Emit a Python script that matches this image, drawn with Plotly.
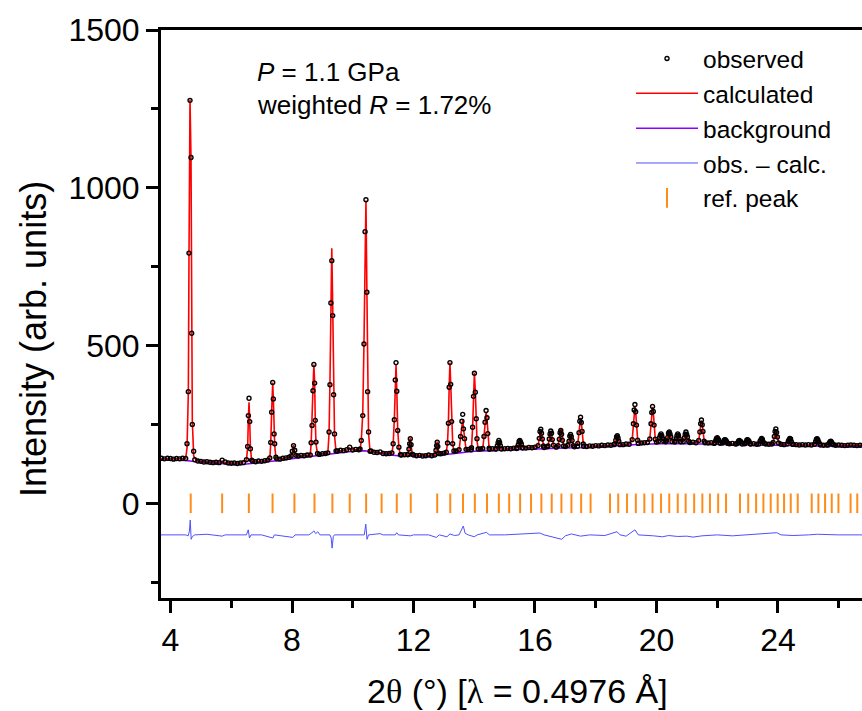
import plotly.graph_objects as go

# ---------------- data ----------------
# observed points along the background (between peaks)
base_tt = [3.7, 3.8, 3.9, 4.0, 4.1, 4.2, 4.3, 4.4, 4.5,
           4.8, 4.9, 5.0, 5.1, 5.2, 5.3, 5.4, 5.5, 5.6, 5.7, 5.8, 5.9, 6.0, 6.1, 6.2, 6.3, 6.4,
           6.7, 6.8, 6.9, 7.0, 7.1, 7.2,
           7.5, 7.6, 7.7, 7.8, 7.9,
           8.2, 8.3, 8.4, 8.5,
           8.9, 9.0, 9.1,
           9.5, 9.6, 9.7, 9.8, 9.9, 10.0, 10.1, 10.2,
           10.6, 10.7, 10.8, 10.9, 11.0, 11.1, 11.2,
           11.6, 11.7, 11.8,
           12.0, 12.1, 12.2, 12.3, 12.4, 12.5, 12.6,
           12.9, 13.0, 13.4, 13.8, 13.9, 14.2, 14.5, 14.6, 14.7,
           15.0, 15.1, 15.2, 15.3, 15.4, 15.6, 15.7, 15.8, 15.9, 16.0,
           16.3, 16.4, 16.7, 17.0, 17.3, 17.4,
           17.6, 17.7, 17.8, 17.9, 18.0, 18.1, 18.2, 18.3, 18.4, 18.5, 18.6,
           18.9, 19.0, 19.1, 19.4, 19.5, 19.6, 19.7, 20.0, 20.3, 20.6, 20.8,
           21.1, 21.2, 21.3, 21.6, 21.7, 21.8, 21.9, 22.1, 22.4, 22.5, 22.6,
           22.9, 23.1, 23.2, 23.3, 23.6, 23.7, 23.8, 24.1, 24.2,
           24.5, 24.6, 24.7, 24.8, 24.9, 25.0, 25.1, 25.4, 25.5, 25.6,
           25.9, 26.0, 26.1, 26.2, 26.3, 26.4, 26.5, 26.6, 26.7, 26.8]
base_obs = [143, 141, 143, 142, 140, 142, 141, 143, 142,
            138, 134, 133, 131, 132, 130, 129, 130, 129, 137, 131, 128, 127, 128, 126, 128, 129,
            134, 132, 134, 133, 135, 137,
            141, 140, 143, 144, 146,
            150, 152, 151, 153,
            155, 157, 158,
            166, 168, 167, 170, 178, 169, 171, 170,
            166, 162, 161, 163, 158, 157, 158,
            153, 154, 155,
            153, 151, 152, 150, 151, 153, 151,
            157, 159, 166, 171, 170, 172, 171, 173, 172,
            173, 174, 173, 175, 174, 176, 175, 177, 176, 178,
            177, 179, 178, 180, 179, 181,
            181, 180, 182, 181, 183, 182, 184, 183, 185, 184, 186,
            186, 188, 187, 190, 191, 192, 193, 194, 195, 194, 195,
            193, 194, 192, 192, 191, 192, 190, 191, 189, 190, 188,
            189, 188, 189, 187, 188, 187, 188, 187, 186,
            187, 186, 185, 186, 185, 186, 185, 185, 184, 185,
            184, 185, 184, 183, 184, 185, 184, 183, 184, 184]

# observed / calculated points across the Bragg peaks
peak_tt = [4.543, 4.587, 4.609, 4.642, 4.675, 4.697, 4.718, 4.763,
           6.50, 6.54, 6.563, 6.585, 6.608, 6.63, 6.67,
           7.27, 7.30, 7.33, 7.365, 7.385, 7.41, 7.43, 7.47,
           7.97, 8.01, 8.05, 8.09, 8.13,
           8.60, 8.63, 8.66, 8.69, 8.72, 8.745, 8.765, 8.79, 8.84,
           9.18, 9.22, 9.25, 9.28, 9.31, 9.34, 9.37, 9.40, 9.45,
           10.24, 10.28, 10.33, 10.37, 10.405, 10.435, 10.465, 10.49, 10.52, 10.57,
           11.29, 11.33, 11.37, 11.40, 11.425, 11.45, 11.48, 11.52, 11.57,
           11.81, 11.85, 11.875, 11.895, 11.92, 11.96,
           12.70, 12.74, 12.76, 12.78, 12.80, 12.84,
           13.08, 13.12, 13.15, 13.175, 13.20, 13.225, 13.255, 13.29, 13.33,
           13.50, 13.55, 13.595, 13.62, 13.645, 13.68, 13.73,
           13.91, 13.945, 13.975, 14.005, 14.035, 14.065, 14.09, 14.13,
           14.28, 14.32, 14.355, 14.39, 14.42, 14.445, 14.49,
           14.72, 14.76, 14.785, 14.81, 14.835, 14.86, 14.90,
           15.41, 15.45, 15.475, 15.50, 15.525, 15.55, 15.59,
           16.10, 16.14, 16.165, 16.19, 16.215, 16.24, 16.28,
           16.43, 16.47, 16.495, 16.52, 16.545, 16.57, 16.61,
           16.76, 16.80, 16.825, 16.85, 16.875, 16.90, 16.94,
           17.08, 17.12, 17.145, 17.17, 17.195, 17.22, 17.26,
           17.41, 17.45, 17.475, 17.50, 17.525, 17.55, 17.59,
           18.62, 18.66, 18.685, 18.71, 18.735, 18.76, 18.80,
           19.20, 19.24, 19.265, 19.29, 19.315, 19.34, 19.38,
           19.78, 19.82, 19.845, 19.87, 19.895, 19.92, 19.96,
           20.06, 20.10, 20.125, 20.15, 20.175, 20.20, 20.24,
           20.33, 20.37, 20.395, 20.42, 20.445, 20.47, 20.51,
           20.61, 20.65, 20.675, 20.70, 20.725, 20.75, 20.79,
           20.88, 20.92, 20.945, 20.97, 20.995, 21.02, 21.06,
           21.39, 21.43, 21.455, 21.48, 21.505, 21.53, 21.57,
           21.91, 21.95, 21.975, 22.00, 22.025, 22.05, 22.09,
           22.17, 22.21, 22.235, 22.26, 22.285, 22.31, 22.35,
           22.64, 22.68, 22.705, 22.73, 22.755, 22.78, 22.82,
           22.91, 22.95, 22.975, 23.00, 23.025, 23.05, 23.09,
           23.37, 23.41, 23.435, 23.46, 23.485, 23.51, 23.55,
           23.84, 23.88, 23.905, 23.93, 23.955, 23.98, 24.02,
           24.30, 24.34, 24.365, 24.39, 24.415, 24.44, 24.48,
           25.20, 25.24, 25.265, 25.29, 25.315, 25.34, 25.38,
           25.65, 25.69, 25.715, 25.74, 25.765, 25.79, 25.83]
peak_obs = [189, 354, 793, 1277, 1096, 539, 250, 165,
            138, 180, 278, 333, 259, 173, 137,
            144, 193, 289, 383, 331, 220, 189, 146,
            150, 165, 183, 168, 152,
            153, 192, 247, 357, 440, 381, 263, 194, 158,
            160, 226, 376, 635, 769, 595, 344, 220, 166,
            172, 199, 278, 505, 861, 962, 669, 354, 226, 165,
            160, 189, 265, 391, 446, 355, 231, 178, 154,
            154, 172, 189, 205, 186, 156,
            153, 168, 183, 194, 180, 158,
            162, 191, 254, 368, 446, 377, 259, 189, 166,
            170, 212, 260, 282, 236, 205, 171,
            176, 241, 339, 412, 352, 268, 205, 172,
            174, 212, 257, 294, 271, 221, 175,
            173, 182, 192, 199, 193, 183, 172,
            177, 186, 196, 199, 194, 188, 176,
            183, 206, 228, 235, 222, 204, 182,
            182, 204, 220, 229, 222, 202, 184,
            183, 203, 224, 231, 219, 200, 182,
            184, 197, 213, 218, 211, 199, 183,
            190, 224, 260, 273, 256, 228, 188,
            188, 200, 210, 214, 207, 197, 186,
            202, 252, 296, 313, 290, 248, 200,
            204, 252, 288, 307, 291, 248, 203,
            196, 208, 215, 220, 214, 206, 197,
            198, 209, 222, 226, 220, 211, 196,
            197, 206, 215, 220, 215, 205, 196,
            195, 208, 219, 226, 218, 210, 197,
            199, 226, 252, 264, 249, 228, 197,
            192, 199, 206, 208, 204, 200, 191,
            191, 196, 201, 202, 199, 195, 190,
            189, 193, 198, 199, 196, 195, 188,
            190, 194, 201, 202, 199, 196, 189,
            188, 197, 201, 206, 203, 195, 190,
            193, 212, 228, 236, 225, 210, 191,
            188, 197, 202, 206, 204, 195, 187,
            187, 196, 203, 205, 201, 194, 188,
            185, 191, 195, 197, 194, 189, 186]
peak_calc = [175, 350, 790, 1280, 1090, 545, 262, 150,
             136, 178, 268, 320, 262, 178, 136,
             142, 190, 292, 383, 335, 226, 184, 144,
             149, 163, 185, 166, 151,
             152, 188, 250, 362, 440, 385, 268, 188, 156,
             159, 222, 385, 650, 808, 625, 350, 215, 165,
             171, 197, 285, 510, 850, 960, 680, 360, 222, 164,
             159, 186, 268, 395, 440, 360, 235, 175, 153,
             153, 170, 192, 208, 184, 155,
             153, 166, 185, 196, 181, 157,
             161, 193, 258, 372, 446, 380, 262, 190, 165,
             169, 208, 250, 265, 238, 200, 170,
             175, 238, 345, 414, 355, 262, 200, 171,
             173, 210, 262, 290, 268, 225, 174,
             172, 180, 190, 195, 190, 181, 172,
             177, 187, 195, 199, 195, 187, 177,
             183, 205, 224, 231, 224, 205, 183,
             183, 203, 221, 229, 221, 203, 183,
             183, 206, 228, 238, 232, 208, 184,
             183, 198, 212, 218, 212, 198, 183,
             189, 226, 258, 271, 258, 226, 189,
             187, 197, 207, 211, 207, 197, 187,
             201, 248, 290, 305, 290, 248, 201,
             204, 250, 289, 306, 289, 250, 204,
             197, 207, 216, 221, 216, 207, 197,
             197, 210, 221, 226, 221, 210, 197,
             197, 207, 216, 221, 216, 207, 197,
             196, 209, 220, 226, 220, 209, 196,
             198, 227, 251, 263, 251, 227, 198,
             192, 199, 205, 208, 205, 199, 192,
             190, 196, 200, 202, 200, 196, 190,
             189, 194, 197, 199, 197, 194, 189,
             189, 195, 200, 202, 200, 195, 189,
             189, 196, 202, 205, 202, 196, 189,
             192, 211, 226, 232, 226, 211, 192,
             188, 196, 203, 206, 203, 196, 188,
             187, 195, 202, 205, 202, 195, 187,
             185, 190, 195, 197, 195, 190, 185]

# calculated curve between peaks
calc_base_tt = [3.60, 4.00, 4.30, 4.50, 4.85, 5.10, 5.40, 5.65, 5.70, 5.75, 6.00, 6.30,
                6.75, 7.00, 7.20, 7.60, 7.85, 8.25, 8.45, 8.95, 9.10,
                9.55, 9.80, 9.88, 9.95, 10.10, 10.70, 10.90, 11.10, 11.70,
                12.10, 12.40, 12.60, 12.95, 13.42, 13.83, 14.20, 14.60,
                15.05, 15.25, 15.70, 15.95, 16.35, 16.69, 17.01, 17.33,
                17.75, 18.00, 18.25, 18.50, 18.95, 19.10, 19.50, 19.65,
                20.01, 20.29, 20.56, 20.84, 21.15, 21.30, 21.70, 21.85,
                22.13, 22.50, 22.87, 23.20, 23.70, 24.15, 24.70, 25.00,
                25.52, 26.10, 26.50, 26.90]
calc_base = [142, 142, 142, 142, 136, 132, 130, 130, 134, 130, 128, 128,
             133, 134, 136, 141, 145, 150, 152, 156, 158,
             166, 169, 176, 170, 170, 163, 160, 158, 153,
             152, 151, 152, 157, 167, 170, 171, 172,
             173, 174, 176, 177, 178, 178, 179, 180,
             181, 182, 183, 184, 186, 188, 190, 192,
             193, 194, 194, 194, 193, 192, 191, 190,
             190, 188, 188, 188, 187, 187, 186, 185,
             185, 184, 184, 184]

# refined background
bg_tt = [3.6, 4.5, 5.0, 5.5, 6.0, 6.5, 7.0, 7.5, 8.0, 8.5, 9.0, 9.5, 10.0, 10.4,
         10.8, 11.2, 11.6, 12.0, 12.5, 13.0, 13.5, 14.0, 14.5, 15.0, 15.5, 16.0,
         16.5, 17.0, 17.5, 18.0, 18.5, 19.0, 19.5, 20.0, 20.5, 21.0, 21.5, 22.0,
         22.5, 23.0, 23.5, 24.0, 24.5, 25.0, 25.5, 26.0, 26.9]
bg = [138, 136, 130, 127, 124, 125, 129, 135, 141, 147, 152, 160, 165, 167,
      159, 153, 150, 149, 149, 154, 160, 165, 167, 169, 171, 173,
      174, 175, 176, 178, 181, 184, 187, 189, 190, 189, 188, 186,
      185, 184, 183, 183, 182, 181, 181, 180, 180]

# difference (obs - calc)
diff_tt = [3.6, 4.50, 4.58, 4.62, 4.65, 4.68, 4.72, 4.80, 5.20, 5.70, 5.80, 6.50, 6.56, 6.60,
           6.65, 7.00, 7.37, 7.42, 8.03, 8.10, 8.55, 8.65, 8.72, 8.78, 8.85, 8.92,
           9.25, 9.29, 9.32, 9.36, 9.40, 9.90, 10.38, 10.43, 10.47, 10.52, 10.90,
           11.00, 11.40, 11.45, 11.50, 11.90, 12.00, 12.50, 12.75, 12.85, 13.10,
           13.20, 13.35, 13.50, 13.60, 13.64, 13.70, 13.80, 14.00, 14.10, 14.40,
           14.50, 15.00, 15.50, 16.16, 16.30, 16.88, 17.00, 17.20, 17.50, 17.80,
           18.30, 18.70, 18.80, 19.00, 19.29, 19.40, 19.90, 20.20, 20.40, 20.70,
           21.00, 21.20, 21.50, 22.00, 22.50, 23.00, 23.50, 23.96, 24.10, 24.50,
           25.00, 25.30, 26.00, 26.90]
diff = [0, 0, -3, 10, 47, -14, -5, 0, 2, -4, 0, 0, 16, -10,
        0, 0, -10, 0, -8, 0, 0, 6, 13, 4, 10, 0,
        0, -10, -42, -5, 0, 0, 0, 34, -14, 0, 4,
        0, 0, 7, 0, -3, 0, 0, -8, 0, -6,
        3, -2, 0, 20, 28, 5, 0, -6, 0, 8,
        0, 0, 2, 6, 0, -14, -3, 3, -4, 0,
        -2, 10, 0, -4, 16, 0, -3, -6, -2, -5,
        -4, -7, -3, 0, -3, 0, 2, 7, 0, -2,
        0, 2, 0, 0]

# reflection positions
ref_peaks = [4.665, 5.70, 6.58, 7.36, 8.08, 8.74, 9.33, 9.90, 10.44, 10.95, 11.45, 11.91,
             12.78, 13.21, 13.63, 14.02, 14.42, 14.81, 15.15, 15.51, 15.87, 16.21, 16.55,
             16.87, 17.20, 17.52, 17.83, 18.47, 18.74, 19.03, 19.32, 19.60, 19.87, 20.15,
             20.42, 20.70, 20.96, 21.24, 21.51, 21.76, 22.03, 22.29, 22.75, 23.02, 23.28,
             23.52, 23.76, 23.99, 24.20, 24.42, 24.65, 25.11, 25.33, 25.55, 25.77, 25.99,
             26.39, 26.61]

# ---------------- assemble ----------------
obs_x = base_tt + peak_tt
obs_y = base_obs + peak_obs
calc_pairs = sorted(zip(peak_tt + calc_base_tt, peak_calc + calc_base))
calc_x = [p[0] for p in calc_pairs]
calc_y = [p[1] for p in calc_pairs]
DIFF_OFFSET = -100
diff_y = [d + DIFF_OFFSET for d in diff]

FONT = "Liberation Sans, Arial, sans-serif"
fig = go.Figure()

fig.add_trace(go.Scatter(x=bg_tt, y=bg, mode="lines", name="background",
                         line=dict(color="#8C00FF", width=1.5), legendrank=3))
fig.add_trace(go.Scatter(x=diff_tt, y=diff_y, mode="lines", name="obs. \u2013 calc.",
                         line=dict(color="#5050FF", width=1), legendrank=4))
fig.add_trace(go.Scatter(x=ref_peaks, y=[0] * len(ref_peaks), mode="markers", name="ref. peak",
                         marker=dict(symbol="line-ns", size=14,
                                     line=dict(width=2, color="#FF8C1A")),
                         legendrank=5))
fig.add_trace(go.Scatter(x=calc_x, y=calc_y, mode="lines", name="calculated",
                         line=dict(color="#FF0000", width=1.6), legendrank=2))
fig.add_trace(go.Scatter(x=obs_x, y=obs_y, mode="markers", name="observed",
                         marker=dict(symbol="circle-open", size=4, color="black",
                                     line=dict(width=1.4, color="black")),
                         legendrank=1))

L, R, T, B = 161, 0, 30, 113
W, H = 862, 711
pw, ph = W - L - R, H - T - B


def px(xp):
    return (xp - L) / pw


def py(yp):
    return (H - B - yp) / ph


fig.update_layout(
    width=W, height=H,
    margin=dict(l=L, r=R, t=T, b=B),
    plot_bgcolor="white", paper_bgcolor="white",
    font=dict(family=FONT, color="black"),
    showlegend=True,
    legend=dict(x=px(631), y=py(36), xanchor="left", yanchor="top",
                font=dict(size=24.5, family=FONT), itemwidth=62,
                bgcolor="rgba(0,0,0,0)", borderwidth=0, tracegroupgap=0,
                traceorder="normal"),
    xaxis=dict(range=[3.687, 26.766], showline=True, linewidth=3, linecolor="black",
               mirror=True, ticks="outside", ticklen=12, tickwidth=3, tickcolor="black",
               dtick=4, tick0=0, showgrid=False, zeroline=False,
               tickfont=dict(size=32, family=FONT),
               minor=dict(dtick=2, tick0=0, ticks="outside", ticklen=7, tickwidth=2.5,
                          tickcolor="black")),
    yaxis=dict(range=[-300, 1500], showline=True, linewidth=3, linecolor="black",
               mirror=False, ticks="outside", ticklen=12, tickwidth=3, tickcolor="black",
               dtick=500, tick0=0, showgrid=False, zeroline=False,
               tickfont=dict(size=32, family=FONT),
               minor=dict(dtick=250, tick0=0, ticks="outside", ticklen=7, tickwidth=2.5,
                          tickcolor="black")),
    annotations=[
        dict(text="2<span style='font-family:Liberation Serif'>\u03b8</span> (\u00b0) "
                  "[<span style='font-family:Liberation Serif'>\u03bb</span> = 0.4976 \u00c5]",
             x=px(517), y=py(691), xref="paper", yref="paper", showarrow=False,
             xanchor="center", yanchor="middle", font=dict(size=34, family=FONT)),
        dict(text="Intensity (arb. units)", textangle=-90,
             x=px(33), y=py(339), xref="paper", yref="paper", showarrow=False,
             xanchor="center", yanchor="middle", font=dict(size=36, family=FONT)),
        dict(text="<i>P</i> = 1.1 GPa", x=px(255), y=py(72), xref="paper", yref="paper",
             showarrow=False, xanchor="left", yanchor="middle", font=dict(size=26, family=FONT)),
        dict(text="weighted <i>R</i> = 1.72%", x=px(255), y=py(105), xref="paper", yref="paper",
             showarrow=False, xanchor="left", yanchor="middle", font=dict(size=26, family=FONT)),
    ],
)

fig.write_html("out.html")
